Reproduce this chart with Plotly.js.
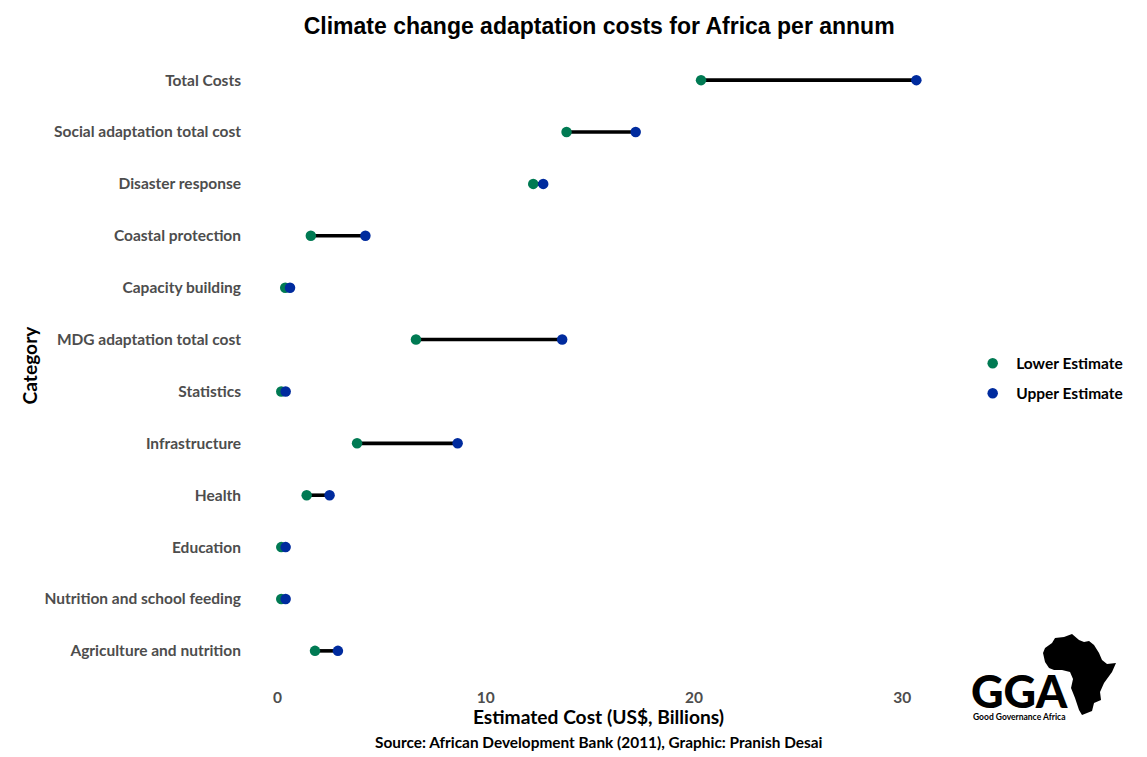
<!DOCTYPE html>
<html>
<head>
<meta charset="utf-8">
<script src="https://cdn.plot.ly/plotly-3.0.1.min.js"></script>
<style>html,body{margin:0;padding:0;background:#fff}</style>
</head>
<body>
<div id="chart" style="width:1147px;height:757px"></div>
<script>
const categories = ["Agriculture and nutrition","Nutrition and school feeding","Education","Health","Infrastructure","Statistics","MDG adaptation total cost","Capacity building","Coastal protection","Disaster response","Social adaptation total cost","Total Costs"];
const lowerEstimate = [1.8,0.18,0.18,1.4,3.82,0.18,6.65,0.37,1.6,12.28,13.88,20.34];
const upperEstimate = [2.9,0.39,0.39,2.5,8.65,0.39,13.67,0.6,4.22,12.76,17.2,30.68];
const xTicks = [0,10,20,30];

const africaSvg = "<svg xmlns='http://www.w3.org/2000/svg' viewBox='0 0 74 81'><path fill='black' d='M1 19 L3 14 L10 9 L13 4 L22 3 L30 0 L37 6 L42 8 L47 7 L52 11 L57 19 L60 26 L65 30 L74 29 L70 38 L62 49 L58 58 L59 66 L52 69 L50 77 L40 81 L37 76 L33 64 L29 54 L31 45 L28 38 L20 36 L12 36 L7 34 L3 28 Z'/></svg>";

const lineX = [], lineY = [];
categories.forEach((c, i) => {
  lineX.push(lowerEstimate[i], upperEstimate[i], null);
  lineY.push(c, c, null);
});

const traces = [
  {type:"scatter", mode:"lines", x:lineX, y:lineY, showlegend:false, hoverinfo:"skip",
   line:{color:"#000000", width:3.6}},
  {type:"scatter", mode:"markers", name:"Lower Estimate", legendgroup:"l", x:lowerEstimate, y:categories,
   marker:{color:"#007A53", size:10.5}},
  {type:"scatter", mode:"markers", name:"Upper Estimate", legendgroup:"u", x:upperEstimate, y:categories,
   marker:{color:"#002B9E", size:10.5}}
];

const layout = {
  width:1147, height:757,
  paper_bgcolor:"#ffffff", plot_bgcolor:"#ffffff",
  margin:{l:249, r:199, t:49, b:75},
  font:{family:"Lato, sans-serif", color:"#000000"},
  title:{text:"Climate change adaptation costs for Africa per annum",
    font:{family:"Liberation Sans, Arial, sans-serif", size:23, weight:700, color:"#000000"},
    x:0.5224, xanchor:"center", y:0.966, yanchor:"middle"},
  xaxis:{range:[-1.37,32.2], tickvals:xTicks, showgrid:false, zeroline:false, showline:false, ticks:"",
    ticklabelstandoff:4,
    tickfont:{family:"Lato, sans-serif", size:15.5, weight:700, color:"#4d4d4d"},
    title:{text:"Estimated Cost (US$, Billions)", standoff:6,
      font:{family:"Lato, sans-serif", size:19.2, weight:700, color:"#000000"}}},
  yaxis:{type:"category", categoryorder:"array", categoryarray:categories, range:[-0.6,11.6],
    showgrid:false, zeroline:false, showline:false, ticks:"",
    ticklabelstandoff:7, ticklabelshift:-0.7,
    tickfont:{family:"Lato, sans-serif", size:15.5, weight:700, color:"#4d4d4d"},
    title:{text:"Category", standoff:1,
      font:{family:"Lato, sans-serif", size:19.2, weight:700, color:"#000000"}}},
  legend:{x:1.0303, xanchor:"left", y:0.4793, yanchor:"middle", traceorder:"grouped", tracegroupgap:7, itemwidth:37,
    font:{family:"Lato, sans-serif", size:15.5, weight:700, color:"#000000"}, bgcolor:"rgba(0,0,0,0)"},
  annotations:[
    {text:"Source: African Development Bank (2011), Graphic: Pranish Desai", xref:"paper", yref:"paper",
     x:0.5, y:-0.0948, xanchor:"center", yanchor:"middle", showarrow:false,
     font:{family:"Lato, sans-serif", size:15.4, weight:700, color:"#000000"}},
    {text:"GGA", xref:"paper", yref:"paper", x:1.0305, y:-0.0145, xanchor:"left", yanchor:"middle", showarrow:false,
     font:{family:"Lato, sans-serif", size:45, weight:900, color:"#000000"}},
    {text:"Good Governance Africa", xref:"paper", yref:"paper", x:1.0335, y:-0.0555, xanchor:"left", yanchor:"middle", showarrow:false,
     font:{family:"Lato, sans-serif", size:8.5, weight:700, color:"#000000"}}
  ],
  images:[{source:"data:image/svg+xml;utf8," + encodeURIComponent(africaSvg), xref:"paper", yref:"paper",
    x:1.1345, y:0.0758, sizex:0.10587, sizey:0.12796, xanchor:"left", yanchor:"top", sizing:"stretch", layer:"above"}],
  showlegend:true
};

Plotly.newPlot("chart", traces, layout, {displayModeBar:false, responsive:false});
</script>
</body>
</html>
